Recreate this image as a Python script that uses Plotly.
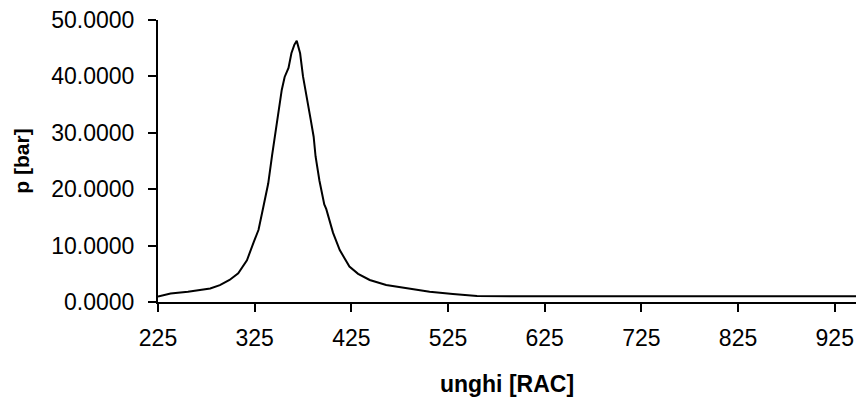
import plotly.graph_objects as go

angle = [225, 238, 256, 268, 279, 289, 299, 308, 317, 324, 329, 334, 339, 343,
         346, 349, 353, 356, 360, 363, 366, 368.5, 371, 372, 375, 379, 383, 386,
         388, 392, 397, 399, 406, 413, 423, 432, 444, 461, 485, 506, 530, 552,
         555, 600, 700, 800, 947]
pressure = [0.95, 1.5, 1.8, 2.1, 2.4, 3.0, 3.9, 5.1, 7.4, 10.6, 12.8, 16.9, 21.0, 26.0,
            29.5, 32.9, 37.6, 39.9, 41.5, 44.1, 45.6, 46.3, 45.0, 44.1, 40.0, 35.8, 32.3, 29.3,
            25.8, 21.5, 17.3, 16.5, 12.3, 9.2, 6.3, 5.0, 3.9, 3.0, 2.4, 1.8, 1.4, 1.2,
            1.05, 1.0, 1.0, 1.0, 1.0]

x_ticks = [225, 325, 425, 525, 625, 725, 825, 925]
y_ticks = [0, 10, 20, 30, 40, 50]

fig = go.Figure()
fig.add_trace(go.Scatter(x=angle, y=pressure, mode="lines",
                         line=dict(color="black", width=2), showlegend=False))

font = "Liberation Sans, Arial, sans-serif"
fig.update_layout(
    width=856, height=401,
    margin=dict(l=158, r=0, t=20, b=99),
    paper_bgcolor="white", plot_bgcolor="white",
    font=dict(family=font, color="black", size=23),
    xaxis=dict(range=[225, 947], tickvals=x_ticks, ticktext=[str(v) for v in x_ticks],
               showgrid=False, zeroline=False, showline=True, linecolor="black", linewidth=2,
               ticks="outside", ticklen=8, tickwidth=2, tickcolor="black",
               tickfont=dict(size=23), ticklabelstandoff=6,
               title=dict(text="<b>unghi [RAC]</b>", font=dict(size=23), standoff=26)),
    yaxis=dict(range=[0, 50], tickvals=y_ticks, ticktext=[f"{v:.4f}" for v in y_ticks],
               showgrid=False, zeroline=False, showline=True, linecolor="black", linewidth=2,
               ticks="outside", ticklen=8, tickwidth=2, tickcolor="black",
               tickfont=dict(size=23), ticklabelstandoff=9,
               title=dict(text="<b>p [bar]</b>", font=dict(size=21), standoff=16)),
)

fig.write_html("out.html")
